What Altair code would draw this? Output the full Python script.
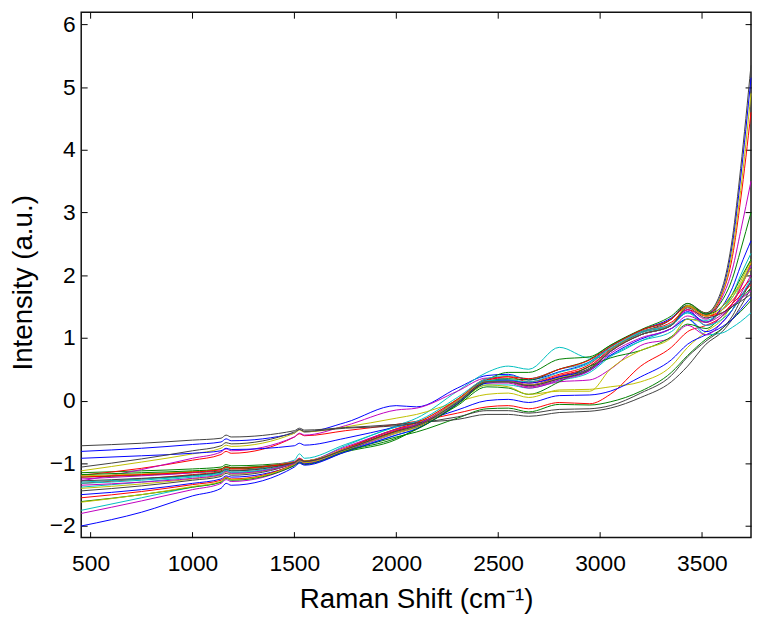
import altair as alt
import pandas as pd

FONT = "Liberation Sans"

X_GRID = [454, 750, 1000, 1140, 1165, 1190, 1500, 1525, 1550, 1750, 2000, 2100,
          2300, 2445, 2550, 2650, 2800, 2950, 3050, 3200, 3350, 3430, 3520,
          3600, 3650, 3690, 3741]

X_TICKS = [500, 1000, 1500, 2000, 2500, 3000, 3500]
Y_TICKS = [-2, -1, 0, 1, 2, 3, 4, 5, 6]

# MATLAB (pre-2014) line colour order: b g r c m y k
COLOR_ORDER = ["#0000ff", "#008000", "#ff0000", "#00bfbf", "#bf00bf", "#bfbf00", "#404040"]

S00 = [-0.81, -0.76, -0.70, -0.66, -0.61, -0.64, -0.52, -0.46, -0.50, -0.35, -0.08, -0.10, 0.20, 0.40, 0.42, 0.33, 0.46, 0.62, 0.86, 1.12, 1.32, 1.52, 1.38, 1.75, 2.50, 3.55, 5.15]
S01 = [-1.15, -1.12, -1.09, -1.06, -1.02, -1.04, -0.98, -0.94, -0.96, -0.80, -0.58, -0.50, -0.28, -0.13, -0.12, -0.18, -0.06, -0.07, -0.02, 0.15, 0.45, 0.72, 0.98, 1.15, 1.30, 1.42, 1.60]
S02 = [-1.19, -1.08, -0.95, -0.86, -0.81, -0.84, -0.58, -0.53, -0.56, -0.48, -0.38, -0.33, -0.20, -0.10, -0.08, -0.13, -0.03, -0.05, 0.10, 0.55, 0.85, 1.10, 1.20, 1.35, 1.55, 1.80, 2.20]
S03 = [-1.38, -1.30, -1.22, -1.17, -1.12, -1.15, -1.00, -0.93, -0.97, -0.72, -0.40, -0.28, 0.15, 0.45, 0.55, 0.50, 0.85, 0.68, 0.72, 0.95, 1.15, 1.30, 1.28, 1.45, 1.65, 1.85, 2.15]
S04 = [-1.28, -1.10, -0.92, -0.82, -0.77, -0.80, -0.58, -0.52, -0.55, -0.40, -0.15, -0.12, 0.15, 0.36, 0.33, 0.25, 0.38, 0.55, 0.80, 1.05, 1.20, 1.45, 1.30, 1.65, 2.10, 2.70, 3.50]
S05 = [-1.12, -0.98, -0.85, -0.76, -0.71, -0.73, -0.52, -0.47, -0.50, -0.42, -0.28, -0.22, -0.02, 0.10, 0.12, 0.05, 0.17, 0.18, 0.22, 0.30, 0.55, 0.85, 1.10, 1.30, 1.55, 1.85, 2.20]
S06 = [-0.72, -0.68, -0.63, -0.60, -0.55, -0.58, -0.48, -0.44, -0.47, -0.43, -0.38, -0.35, -0.30, -0.22, -0.22, -0.25, -0.19, -0.17, -0.12, 0.05, 0.30, 0.55, 0.90, 1.10, 1.30, 1.50, 1.80]
S07 = [-0.92, -0.88, -0.84, -0.80, -0.76, -0.78, -0.72, -0.68, -0.71, -0.60, -0.42, -0.35, -0.15, 0.00, 0.02, -0.03, 0.08, 0.09, 0.15, 0.38, 0.65, 0.90, 1.05, 1.18, 1.30, 1.45, 1.65]
S08 = [-1.22, -1.19, -1.15, -1.12, -1.07, -1.09, -1.00, -0.95, -0.98, -0.78, -0.50, -0.42, 0.02, 0.33, 0.45, 0.45, 0.66, 0.70, 0.88, 1.12, 1.30, 1.52, 1.38, 1.60, 1.95, 2.40, 3.00]
S09 = [-1.32, -1.25, -1.18, -1.13, -1.09, -1.11, -0.98, -0.92, -0.96, -0.78, -0.48, -0.38, -0.02, 0.33, 0.32, 0.28, 0.40, 0.55, 0.82, 1.08, 1.22, 1.50, 1.36, 1.70, 2.30, 3.20, 4.60]
S10 = [-1.75, -1.55, -1.38, -1.30, -1.22, -1.26, -1.02, -0.97, -1.00, -0.80, -0.55, -0.45, -0.05, 0.25, 0.25, 0.20, 0.32, 0.45, 0.70, 0.95, 1.10, 1.30, 1.05, 1.08, 1.17, 1.26, 1.40]
S11 = [-1.80, -1.60, -1.42, -1.32, -1.26, -1.29, -1.03, -0.97, -1.00, -0.80, -0.52, -0.42, -0.05, 0.28, 0.28, 0.20, 0.30, 0.33, 0.50, 0.88, 1.00, 1.20, 1.05, 1.25, 1.45, 1.70, 2.00]
S12 = [-1.40, -1.33, -1.25, -1.19, -1.14, -1.17, -1.00, -0.94, -0.98, -0.76, -0.45, -0.36, 0.02, 0.30, 0.30, 0.22, 0.35, 0.50, 0.78, 1.05, 1.20, 1.52, 1.40, 1.72, 2.40, 3.35, 4.90]
S13 = [-1.44, -1.36, -1.27, -1.21, -1.16, -1.19, -1.00, -0.95, -0.98, -0.77, -0.46, -0.38, 0.00, 0.32, 0.30, 0.24, 0.38, 0.52, 0.80, 1.08, 1.30, 1.55, 1.40, 1.80, 2.60, 3.70, 5.35]
S14 = [-1.50, -1.42, -1.32, -1.25, -1.20, -1.22, -1.03, -0.98, -1.01, -0.80, -0.50, -0.42, -0.05, 0.28, 0.30, 0.25, 0.35, 0.48, 0.72, 0.98, 1.15, 1.30, 1.10, 1.25, 1.45, 1.65, 1.90]
S15 = [-1.61, -1.50, -1.38, -1.30, -1.24, -1.27, -1.04, -0.99, -1.02, -0.82, -0.62, -0.45, -0.08, 0.22, 0.20, 0.10, 0.30, 0.55, 0.68, 0.80, 1.02, 1.22, 1.15, 1.35, 1.50, 1.62, 1.80]
S16 = [-1.55, -1.45, -1.34, -1.27, -1.22, -1.25, -1.01, -0.95, -0.99, -0.76, -0.45, -0.35, 0.02, 0.35, 0.38, 0.30, 0.42, 0.58, 0.85, 1.10, 1.25, 1.45, 1.35, 1.45, 1.60, 1.75, 1.95]
S17 = [-1.32, -1.27, -1.20, -1.14, -1.09, -1.12, -0.95, -0.85, -0.92, -0.70, -0.42, -0.33, 0.05, 0.35, 0.40, 0.35, 0.50, 0.62, 0.85, 1.10, 1.22, 1.40, 1.25, 1.45, 1.70, 2.00, 2.35]
S18 = [-1.25, -1.20, -1.15, -1.10, -1.05, -1.07, -0.97, -0.92, -0.96, -0.74, -0.46, -0.38, 0.00, 0.30, 0.32, 0.25, 0.36, 0.50, 0.78, 1.05, 1.20, 1.45, 1.20, 1.35, 1.55, 1.80, 2.15]
S19 = [-1.20, -1.17, -1.13, -1.09, -1.05, -1.07, -0.98, -0.93, -0.96, -0.77, -0.52, -0.43, -0.05, 0.25, 0.22, 0.10, 0.15, 0.15, 0.50, 0.80, 1.00, 1.30, 1.25, 1.45, 1.65, 1.90, 2.25]
S20 = [-1.06, -0.93, -0.80, -0.72, -0.67, -0.69, -0.50, -0.46, -0.49, -0.44, -0.40, -0.36, -0.26, -0.16, -0.16, -0.20, -0.14, -0.13, -0.08, 0.12, 0.40, 0.70, 0.95, 1.15, 1.35, 1.60, 1.90]
S21 = [-2.00, -1.78, -1.52, -1.40, -1.32, -1.35, -1.06, -1.00, -1.03, -0.82, -0.55, -0.45, -0.05, 0.30, 0.33, 0.28, 0.38, 0.50, 0.80, 1.05, 1.20, 1.42, 1.25, 1.50, 1.80, 2.15, 2.55]
S22 = [-1.18, -1.15, -1.12, -1.09, -1.05, -1.07, -0.99, -0.94, -0.97, -0.80, -0.60, -0.46, -0.06, 0.30, 0.35, 0.33, 0.50, 0.66, 0.88, 1.13, 1.35, 1.55, 1.38, 1.50, 1.70, 1.95, 2.25]
S23 = [-1.22, -1.18, -1.14, -1.10, -1.06, -1.08, -0.99, -0.93, -0.97, -0.78, -0.48, -0.40, -0.02, 0.32, 0.38, 0.35, 0.50, 0.65, 0.86, 1.12, 1.30, 1.50, 1.35, 1.40, 1.55, 1.68, 1.85]
S24 = [-1.30, -1.25, -1.20, -1.16, -1.11, -1.14, -1.00, -0.94, -0.98, -0.78, -0.50, -0.40, -0.02, 0.32, 0.33, 0.30, 0.45, 0.60, 0.83, 1.08, 1.20, 1.40, 1.20, 1.30, 1.45, 1.65, 1.95]
S25 = [-1.35, -1.30, -1.24, -1.18, -1.13, -1.16, -1.00, -0.95, -0.98, -0.78, -0.50, -0.40, 0.00, 0.30, 0.30, 0.22, 0.33, 0.48, 0.75, 1.00, 1.15, 1.35, 1.25, 1.38, 1.52, 1.62, 1.75]
S26 = [-1.62, -1.50, -1.37, -1.29, -1.23, -1.26, -1.02, -0.96, -0.99, -0.79, -0.50, -0.41, 0.00, 0.30, 0.30, 0.25, 0.36, 0.50, 0.80, 1.05, 1.20, 1.50, 1.35, 1.50, 1.70, 1.85, 2.10]
S27 = [-1.28, -1.24, -1.19, -1.14, -1.10, -1.12, -0.99, -0.94, -0.97, -0.78, -0.49, -0.40, -0.03, 0.30, 0.30, 0.24, 0.35, 0.50, 0.78, 1.05, 1.20, 1.48, 1.32, 1.40, 1.50, 1.58, 1.70]

SERIES = [S00, S01, S02, S03, S04, S05, S06, S07, S08, S09, S10, S11, S12, S13,
          S14, S15, S16, S17, S18, S19, S20, S21, S22, S23, S24, S25, S26, S27]

names = [f"spectrum {i + 1:02d}" for i in range(len(SERIES))]
colors = [COLOR_ORDER[i % len(COLOR_ORDER)] for i in range(len(SERIES))]

rows = []
for name, ys in zip(names, SERIES):
    for x, y in zip(X_GRID, ys):
        rows.append({"series": name, "shift": x, "intensity": y})
df = pd.DataFrame(rows)

x_scale = alt.Scale(domain=[454, 3741], nice=False, zero=False)
y_scale = alt.Scale(domain=[-2.185, 6.195], nice=False, zero=False)

common_axis = dict(domain=False, grid=False, tickSize=6, offset=-6, tickColor="black",
                   tickWidth=1, labelFont=FONT, labelColor="black",
                   titleFont=FONT, titleColor="black", titleFontWeight="normal")

lines = alt.Chart(df).mark_line(strokeWidth=1, interpolate="monotone").encode(
    x=alt.X("shift:Q", scale=x_scale,
            axis=alt.Axis(orient="bottom", values=X_TICKS, format="d", labelFontSize=23,
                          labelPadding=15, labelFlush=False, labelOverlap=False,
                          title="Raman Shift (cm⁻¹)", titleFontSize=28, titlePadding=11,
                          **common_axis)),
    y=alt.Y("intensity:Q", scale=y_scale,
            axis=alt.Axis(orient="left", values=Y_TICKS, format="d", labelFontSize=23,
                          labelPadding=6, labelFlush=False, labelOverlap=False,
                          title="Intensity (a.u.)", titleFontSize=28, titlePadding=12,
                          titleY=273, **common_axis)),
    color=alt.Color("series:N", scale=alt.Scale(domain=names, range=colors), legend=None),
)

mirror = alt.Chart(df).mark_line(strokeOpacity=0).encode(
    x=alt.X("shift:Q", scale=x_scale,
            axis=alt.Axis(orient="top", values=X_TICKS, labels=False, title=None, **common_axis)),
    y=alt.Y("intensity:Q", scale=y_scale,
            axis=alt.Axis(orient="right", values=Y_TICKS, labels=False, title=None, **common_axis)),
    detail="series:N",
)

chart = alt.layer(lines, mirror).resolve_axis(x="independent", y="independent").properties(
    width=677, height=531,
    autosize=alt.AutoSizeParams(type="none"),
    padding={"left": 74, "top": 1, "right": 1, "bottom": 80},
).configure_view(stroke="#111111", strokeWidth=1.5)

chart.save("out.html", embed_options={"renderer": "svg", "actions": False})
